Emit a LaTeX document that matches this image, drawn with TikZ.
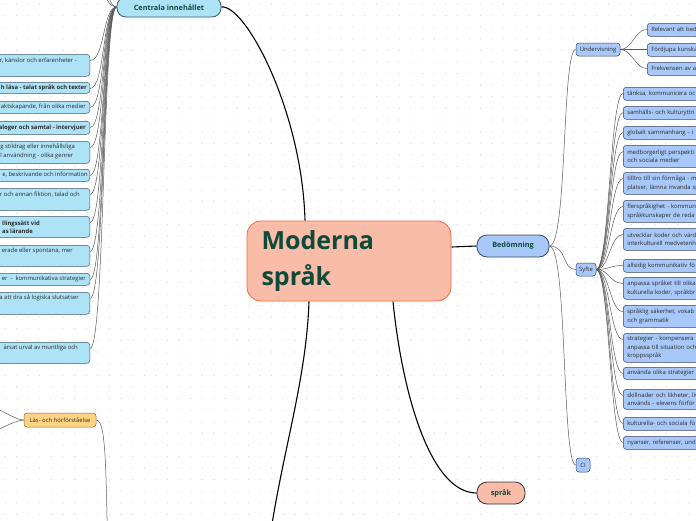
\documentclass[tikz,border=0pt]{standalone}
\usepackage{fontspec}
\setmainfont{Open Sans}
\usepackage{tikz}
\usetikzlibrary{positioning,backgrounds}
\definecolor{mmCyan}{HTML}{AEE3F7}
\definecolor{mmCyanLine}{HTML}{3F5966}
\definecolor{mmBlue}{HTML}{A8C8FA}
\definecolor{mmBlueLine}{HTML}{394760}
\definecolor{mmSalmon}{HTML}{F8BCA8}
\definecolor{mmOrange}{HTML}{F2683A}
\definecolor{mmGold}{HTML}{FFD383}
\definecolor{mmGoldLine}{HTML}{84662E}
\definecolor{mmInk}{HTML}{0D4A3A}
\definecolor{mmText}{HTML}{2A2A2A}
\definecolor{mmDot}{HTML}{D9D9D9}
\definecolor{mmTwig}{HTML}{5A5A5A}
\tikzset{
  rootbox/.style={rounded corners=14pt, draw=mmOrange, fill=mmSalmon, line width=0.8pt, font=\fontsize{25}{36}\selectfont\bfseries, text=mmInk, align=left, text width=175pt, minimum width=204pt, minimum height=80pt, inner sep=0pt},
  topic/.style={rounded corners=9pt, line width=0.8pt, font=\fontsize{7.3}{9}\selectfont\bfseries, text=mmInk, inner sep=0pt},
  sub/.style={rounded corners=3pt, line width=0.5pt, font=\fontsize{5.9}{8.6}\selectfont, text=mmText, inner sep=0pt},
  leafR/.style={rounded corners=3pt, draw=mmBlueLine, fill=mmBlue, line width=0.5pt, font=\fontsize{5.9}{8.6}\selectfont, text=mmText, align=left, text width=120pt, inner xsep=4pt, inner ysep=0pt, anchor=north west},
  leafL/.style={rounded corners=3pt, draw=mmCyanLine, fill=mmCyan, line width=0.5pt, minimum width=130pt, anchor=north east, inner sep=0pt},
  leaftxt/.style={font=\fontsize{5.9}{8.6}\selectfont, text=mmText, inner sep=0pt, align=left, anchor=east},
  conn/.style={draw=black, line width=1.1pt},
  twig/.style={draw=mmTwig, line width=0.5pt}
}
\begin{document}
\begin{tikzpicture}[x=1pt,y=-1pt]
  \useasboundingbox (0,0) rectangle (696,520);
  \clip (0,0) rectangle (696,520);
  % root and main topics
  \node[rootbox] (root) at (349,261) {Moderna\\språk};
  \node[topic, fill=mmCyan, draw=mmCyanLine, minimum width=104pt, minimum height=20pt] (cin) at (169,7) {Centrala innehållet};
  \node[topic, fill=mmBlue, draw=mmBlueLine, minimum width=72pt, minimum height=22pt, rounded corners=10pt] (bed) at (513,246) {Bedömning};
  \node[topic, fill=mmSalmon, draw=black!80, minimum width=48pt, minimum height=22pt, rounded corners=10pt] (spr) at (501,493) {språk};
  \coordinate (bot) at (266,570);
  % Centrala innehållet
  \node[leafL, minimum height=22pt] (l1) at (90,54) {};
  \node[leafL, minimum height=11pt] (l2) at (90,82) {};
  \node[leafL, minimum height=12pt] (l3) at (90,101) {};
  \node[leafL, minimum height=13pt] (l4) at (90,121) {};
  \node[leafL, minimum height=22pt] (l5) at (90,141) {};
  \node[leafL, minimum height=12pt] (l6) at (90,169) {};
  \node[leafL, minimum height=22pt] (l7) at (90,188) {};
  \node[leafL, minimum height=21pt] (l8) at (90,216) {};
  \node[leafL, minimum height=21pt] (l9) at (90,245) {};
  \node[leafL, minimum height=12pt] (l10) at (90,273) {};
  \node[leafL, minimum height=22pt] (l11) at (90,292) {};
  \node[leafL, minimum height=21pt] (l12) at (90,342) {};
  \node[leaftxt] (l1t) at (77,61) {r, känslor och erfarenheter -};
  \node[leaftxt, font=\fontsize{5.9}{8.6}\selectfont\bfseries] (l2t) at (87,88) {h läsa - talat språk och texter};
  \node[leaftxt] (l3t) at (86,107) {aktskapande, från olika medier};
  \node[leaftxt, font=\fontsize{5.9}{8.6}\selectfont\bfseries] (l4t) at (86,127.5) {aloger och samtal - intervjuer};
  \node[leaftxt] (l5t) at (75,151.5) {g stildrag eller innehållsliga\\l användning - olika genrer};
  \node[leaftxt] (l6t) at (88,175) {e, beskrivande och information};
  \node[leaftxt] (l7t) at (80,194.5) {r och annan fiktion, talad och};
  \node[leaftxt, font=\fontsize{5.9}{8.2}\selectfont\bfseries] (l8t) at (40,227) {llingssätt vid\\as lärande};
  \node[leaftxt] (l9t) at (73,251) {erade eller spontana, mer};
  \node[leaftxt] (l10t) at (86,279) {er \ - \ kommunikativa strategier};
  \node[leaftxt] (l11t) at (79,297.5) {a att dra så logiska slutsatser};
  \node[leaftxt] (l12t) at (78,348) {ärsat urval av muntliga och};
  \coordinate (up1) at (96,-40);
  \coordinate (up2) at (100,-60);
  % Läs- och hörförståelse
  \node[sub, fill=mmGold, draw=mmGoldLine, minimum width=72pt, minimum height=14pt] (las) at (60,420) {Läs- och hörförståelse};
  \coordinate (lasin) at (108,570);
  \coordinate (lasa) at (-18,404);
  \coordinate (lasb) at (-18,434);
  % Bedömning
  \node[sub, fill=mmBlue, draw=mmBlueLine, minimum width=44pt, minimum height=13pt] (und) at (598,49.5) {Undervisning};
  \node[sub, fill=mmBlue, draw=mmBlueLine, minimum width=20pt, minimum height=13pt] (syf) at (586,269.5) {Syfte};
  \node[sub, fill=mmBlue, draw=mmBlueLine, minimum width=14pt, minimum height=14pt] (ci) at (583,465) {CI};
  \node[leafR, minimum height=13pt] (u1) at (647,23) {Relevant att bed};
  \node[leafR, minimum height=13pt] (u2) at (647,43) {Fördjupa kunska};
  \node[leafR, minimum height=13pt] (u3) at (647,62) {Frekvensen av a};
  \node[leafR, minimum height=13pt] (s1) at (623,87) {tänksa, kommunicera oc};
  \node[leafR, minimum height=13pt] (s2) at (623,106) {samhälls- och kulturyttri};
  \node[leafR, minimum height=13pt] (s3) at (623,126) {globalt sammanhang - i};
  \node[leafR, minimum height=22pt] (s4) at (623,145) {medborgerligt perspekti\\och sociala medier};
  \node[leafR, minimum height=22pt] (s5) at (623,172) {tilltro till sin förmåga - m\\platser, lämna invanda sp};
  \node[leafR, minimum height=22pt] (s6) at (623,200) {flerspråkighet - kommun\\språkkunskaper de reda};
  \node[leafR, minimum height=22pt] (s7) at (623,228) {utvecklar koder och värd\\interkulturell medvetenh};
  \node[leafR, minimum height=13pt] (s8) at (623,259) {allsidig kommunikativ fö};
  \node[leafR, minimum height=22pt] (s9) at (623,277) {anpassa språket till olika\\kulturella koder, språkbr};
  \node[leafR, minimum height=22pt] (s10) at (623,305) {språklig säkerhet, vokab\\och grammatik};
  \node[leafR, minimum height=29pt] (s11) at (623,333) {strategier - kompensera\\anpassa till situation och\\kroppsspråk};
  \node[leafR, minimum height=12pt] (s12) at (623,367) {använda olika strategier};
  \node[leafR, minimum height=20pt] (s13) at (623,389) {skillnader och likheter, liv\\används - elevens förför};
  \node[leafR, minimum height=13pt] (s14) at (623,417) {kulturella- och sociala fö};
  \node[leafR, minimum height=13pt] (s15) at (623,436) {nyanser, referenser, und};
  \begin{scope}[on background layer]
    \clip (0,0) rectangle (696,520);
    \fill[white] (0,0) rectangle (696,520);
    \foreach \i in {0,...,60}
      \foreach \j in {0,...,45}
        \fill[mmDot] (\i*11.6+5,\j*11.6+4) circle[radius=0.6pt];
    % connectors
    \draw[conn] (cin.east) .. controls (245,4) and (302,110) .. ([xshift=-44pt]root.north);
    \draw[conn] ([yshift=14pt]root.east) -- (bed.west);
    \draw[conn] ([xshift=-40pt]root.south) .. controls (306,390) and (276,470) .. (bot);
    \draw[conn] ([xshift=44pt]root.south) .. controls (402,392) and (430,493) .. (spr.west);
    \foreach \n in {l1,l2,l3,l4,l5,l6,l7,l8,l9,l10,l11,l12}
      \draw[twig] (cin.west) .. controls +(-14,0) and +(15,0) .. ([yshift=-6.5pt]\n.north east);
    \foreach \n in {up1,up2}
      \draw[twig] (cin.west) .. controls +(-12,0) and +(4,20) .. (\n);
    \draw[twig] (las.east) .. controls +(10,0) and (106,470) .. (lasin);
    \draw[twig] (las.west) .. controls +(-10,0) and +(12,0) .. (lasa);
    \draw[twig] (las.west) .. controls +(-10,0) and +(12,0) .. (lasb);
    \foreach \n in {und,syf,ci}
      \draw[twig] (bed.east) .. controls +(18,0) and +(-14,0) .. (\n.west);
    \foreach \n in {u1,u2,u3}
      \draw[twig] (und.east) .. controls +(12,0) and +(-12,0) .. ([yshift=-6.5pt]\n.north west);
    \foreach \n in {s1,s2,s3,s4,s5,s6,s7,s8,s9,s10,s11,s12,s13,s14,s15}
      \draw[twig] (syf.east) .. controls +(13,0) and +(-13,0) .. ([yshift=-6.5pt]\n.north west);
  \end{scope}
\end{tikzpicture}
\end{document}
